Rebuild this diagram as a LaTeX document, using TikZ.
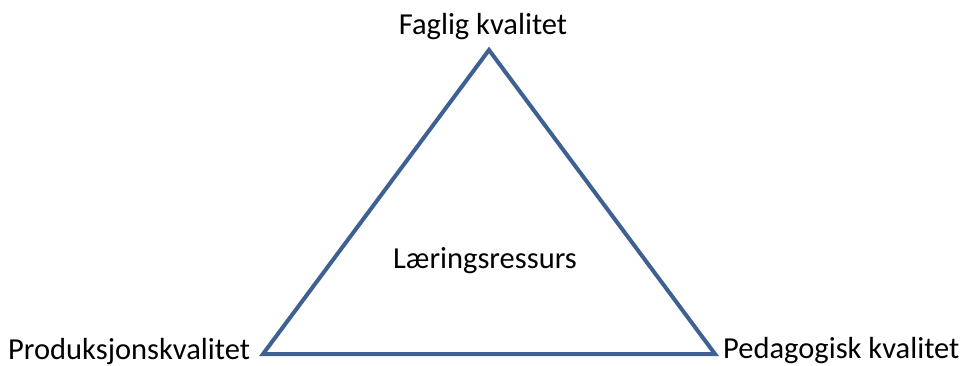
\documentclass[tikz,border=0pt]{standalone}
\usepackage{fontspec}
\setmainfont{Carlito}
\usepackage{xcolor}
\usepackage{tikz}
\usetikzlibrary{positioning}
\definecolor{triblue}{RGB}{62,96,146}

\begin{document}
\begin{tikzpicture}[
    x=1pt, y=-1pt,
    label/.style={inner sep=0pt, font=\fontsize{30.5}{36}\selectfont, text=black},
    edge/.style={draw=triblue, line width=4pt, line join=miter}]
  \useasboundingbox (0,0) rectangle (966,366);
  \coordinate (top) at (489,50);
  \coordinate (left) at (263,354);
  \coordinate (right) at (715,354);
  \node[label, anchor=base] (fag) at (483,35) {Faglig kvalitet};
  \node[label, anchor=base] (res) at (485,268) {Læringsressurs};
  \node[label, anchor=base west] (prod) at (8,359) {Produksjonskvalitet};
  \node[label, anchor=base west] (ped) at (723,358) {Pedagogisk kvalitet};
  \draw[edge] (top) -- (right) -- (left) -- cycle;
\end{tikzpicture}
\end{document}
